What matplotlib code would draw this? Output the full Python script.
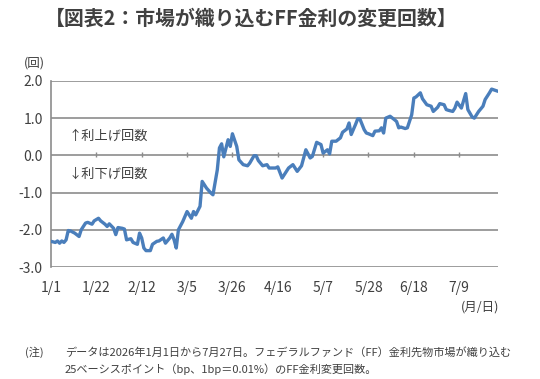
#!/usr/bin/env python3
"""FF rate: number of 25bp moves priced in by the futures market (2026)."""

import matplotlib

matplotlib.use("Agg")
import matplotlib.pyplot as plt
import pandas as pd

plt.rcParams["font.family"] = ["Noto Sans CJK JP", "DejaVu Sans"]

YEAR = 2026
DATES = [
    "01-01", "01-03", "01-04", "01-05", "01-06", "01-07", "01-08", "01-09", "01-10", "01-12",
    "01-14", "01-15", "01-17", "01-18", "01-20", "01-21", "01-23", "01-24", "01-26", "01-27",
    "01-28", "01-30", "01-31", "02-01", "02-03", "02-04", "02-05", "02-07", "02-08", "02-10",
    "02-11", "02-12", "02-13", "02-14", "02-16", "02-17", "02-19", "02-20", "02-22", "02-23",
    "02-25", "02-26", "02-27", "02-28", "03-01", "03-03", "03-05", "03-07", "03-08", "03-09",
    "03-11", "03-12", "03-14", "03-16", "03-17", "03-19", "03-20", "03-21", "03-22", "03-24",
    "03-25", "03-26", "03-28", "03-29", "03-31", "04-02", "04-03", "04-05", "04-06", "04-07",
    "04-09", "04-11", "04-12", "04-15", "04-16", "04-18", "04-19", "04-21", "04-23", "04-25",
    "04-27", "04-29", "05-01", "05-02", "05-04", "05-06", "05-07", "05-09", "05-10", "05-11",
    "05-13", "05-15", "05-16", "05-18", "05-19", "05-20", "05-22", "05-23", "05-24", "05-26",
    "05-27", "05-28", "05-30", "05-31", "06-02", "06-03", "06-04", "06-05", "06-07", "06-09",
    "06-10", "06-11", "06-12", "06-14", "06-15", "06-17", "06-18", "06-19", "06-21", "06-22",
    "06-24", "06-26", "06-27", "06-29", "06-30", "07-02", "07-03", "07-04", "07-06", "07-07",
    "07-08", "07-10", "07-12", "07-13", "07-15", "07-16", "07-18", "07-20", "07-21", "07-23",
    "07-24", "07-26", "07-27",
]
MOVES = [
    -2.31, -2.34, -2.30, -2.36, -2.30, -2.34, -2.27, -2.02, -2.03, -2.09,
    -2.18, -2.00, -1.82, -1.80, -1.85, -1.76, -1.69, -1.76, -1.85, -1.91,
    -1.84, -1.96, -2.13, -1.94, -1.96, -1.98, -2.27, -2.24, -2.34, -2.39,
    -2.09, -2.22, -2.49, -2.56, -2.56, -2.39, -2.31, -2.30, -2.22, -2.36,
    -2.22, -2.12, -2.27, -2.49, -2.00, -1.78, -1.51, -1.69, -1.51, -1.60,
    -1.37, -0.70, -0.88, -1.01, -1.06, -0.39, 0.20, 0.31, -0.04, 0.42,
    0.24, 0.58, 0.24, -0.12, -0.25, -0.28, -0.21, -0.01, -0.01, -0.14,
    -0.28, -0.25, -0.34, -0.34, -0.31, -0.61, -0.52, -0.34, -0.25, -0.43,
    -0.28, 0.15, -0.07, -0.03, 0.35, 0.29, 0.06, 0.15, 0.04, 0.38,
    0.38, 0.47, 0.62, 0.71, 0.87, 0.56, 0.83, 0.98, 0.98, 0.69,
    0.60, 0.58, 0.53, 0.65, 0.66, 0.74, 0.60, 1.00, 1.05, 0.96,
    0.91, 0.74, 0.76, 0.72, 0.74, 1.09, 1.54, 1.57, 1.68, 1.52,
    1.36, 1.32, 1.18, 1.29, 1.39, 1.36, 1.23, 1.21, 1.18, 1.27,
    1.43, 1.27, 1.66, 1.23, 1.03, 1.00, 1.18, 1.32, 1.50, 1.68,
    1.78, 1.74, 1.72,
]
XTICK_DATES = ["01-01", "01-22", "02-12", "03-05", "03-26", "04-16", "05-07", "05-28", "06-18", "07-09"]
YTICKS = [2.0, 1.0, 0.0, -1.0, -2.0, -3.0]

TITLE = "【図表2：市場が織り込むFF金利の変更回数】"
NOTE_1 = "データは2026年1月1日から7月27日。フェデラルファンド（FF）金利先物市場が織り込む"
NOTE_2 = "25ベーシスポイント（bp、1bp＝0.01%）のFF金利変更回数。"

LINE_COLOR = "#4a7ebb"
GRID_COLOR = "#8c8c8c"
TEXT_COLOR = "#404040"


def main() -> None:
    dates = pd.to_datetime([f"{YEAR}-{d}" for d in DATES])
    ticks = pd.to_datetime([f"{YEAR}-{d}" for d in XTICK_DATES])
    assert len(dates) == len(MOVES)

    fig = plt.figure(figsize=(5.4, 3.79), dpi=100)
    ax = fig.add_axes([0.0944, 0.2955, 0.828, 0.491])

    for y in YTICKS:
        ax.axhline(y, color=GRID_COLOR, lw=1.2, zorder=1)
    ax.vlines(ticks[1:], -0.05, 0.08, color=GRID_COLOR, lw=1.0, zorder=1)
    ax.plot(dates, MOVES, color=LINE_COLOR, lw=2.4, solid_capstyle="round", zorder=3)

    ax.set_xlim(dates[0], dates[-1])
    ax.set_ylim(min(YTICKS), max(YTICKS))
    ax.set_yticks(YTICKS)
    ax.set_yticklabels([f"{v:.1f}" for v in YTICKS])
    ax.set_xticks(ticks)
    ax.set_xticklabels([f"{d.month}/{d.day}" for d in ticks])
    ax.tick_params(length=0, labelsize=10, colors=TEXT_COLOR, pad=6)
    ax.tick_params(axis="x", pad=10)
    for side in ("top", "right", "bottom"):
        ax.spines[side].set_visible(False)
    ax.spines["left"].set_color(GRID_COLOR)
    ax.spines["left"].set_linewidth(1.2)

    ax.text(0.04, 0.70, "↑利上げ回数", transform=ax.transAxes, fontsize=9.5, color=TEXT_COLOR, va="center")
    ax.text(0.04, 0.50, "↓利下げ回数", transform=ax.transAxes, fontsize=9.5, color=TEXT_COLOR, va="center")

    fig.text(0.465, 0.952, TITLE, ha="center", va="center", fontsize=14.3, fontweight="bold", color=TEXT_COLOR)
    fig.text(0.045, 0.833, "(回)", ha="left", va="center", fontsize=9, color=TEXT_COLOR)
    fig.text(0.925, 0.19, "(月/日)", ha="right", va="center", fontsize=9, color=TEXT_COLOR)
    fig.text(0.046, 0.071, "(注)", ha="left", va="center", fontsize=8, color=TEXT_COLOR)
    fig.text(0.12, 0.071, NOTE_1, ha="left", va="center", fontsize=8, color=TEXT_COLOR)
    fig.text(0.12, 0.027, NOTE_2, ha="left", va="center", fontsize=8, color=TEXT_COLOR)

    fig.savefig("out.png", dpi=100, facecolor="white")
    plt.close(fig)


if __name__ == "__main__":
    main()
